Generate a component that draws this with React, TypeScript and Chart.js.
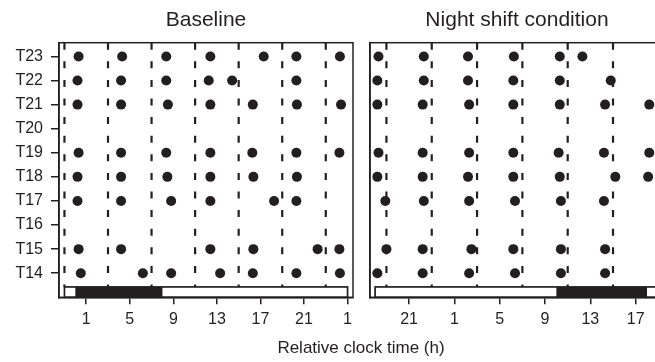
import React, { useEffect, useRef } from 'react';
import { Chart, registerables } from 'chart.js';

Chart.register(...registerables);

// ---- Data ----
const categories = ['T14', 'T15', 'T16', 'T17', 'T18', 'T19', 'T20', 'T21', 'T22', 'T23'];

// Baseline: event times (relative clock hours, continuous) per subject row, same order as categories
const baselineTimes: number[][] = [
  [0.5, 6.2, 8.8, 13.3, 16.3, 20.3, 24.3], // T14
  [0.3, 4.2, 12.4, 16.35, 22.25, 24.25], // T15
  [], // T16
  [0.2, 4.2, 8.8, 12.4, 18.25, 20.3], // T17
  [0.2, 4.2, 8.45, 12.4, 16.35, 20.35], // T18
  [0.3, 4.2, 8.35, 12.4, 16.25, 20.3, 24.25], // T19
  [], // T20
  [0.2, 4.2, 8.5, 12.4, 16.3, 20.35, 24.4], // T21
  [0.2, 4.2, 8.35, 12.25, 14.4, 20.3], // T22
  [0.3, 4.3, 8.35, 12.4, 17.3, 20.3, 24.3], // T23
];

// Night shift condition: times in continuous hours (21 = 21h, 25 = 1h next day, ...)
const nightTimes: number[][] = [
  [18.2, 22.2, 26.3, 30.35, 34.4, 38.3], // T14
  [19.0, 22.2, 26.5, 30.2, 34.4, 38.3], // T15
  [], // T16
  [18.9, 22.3, 26.3, 30.35, 34.4, 38.2], // T17
  [18.2, 22.2, 26.2, 30.2, 34.3, 39.2, 42.1], // T18
  [18.3, 22.2, 26.3, 30.2, 34.2, 38.2, 42.2], // T19
  [], // T20
  [18.2, 22.2, 26.3, 30.2, 34.3, 38.3, 42.2], // T21
  [18.2, 22.3, 26.2, 30.2, 34.3, 38.8], // T22
  [18.3, 22.3, 26.2, 30.25, 34.3, 36.3], // T23
];

const baselineDividers = [-1, 3, 7, 11, 15, 19, 23];
const nightDividers = [19, 23, 27, 31, 35, 39, 43];

const baselineTickValues = [1, 5, 9, 13, 17, 21, 25];
const baselineTickLabels = ['1', '5', '9', '13', '17', '21', '1'];
const nightTickValues = [21, 25, 29, 33, 37, 41];
const nightTickLabels = ['21', '1', '5', '9', '13', '17'];

// light/dark schedule bar [start, end]
const baselineSpan = [-1, 25];
const baselineDark = [0, 8];
const nightSpan = [18, 44];
const nightDark = [34, 42];

const INK = '#231f20';
const FONT = "'Liberation Sans', Arial, Helvetica, sans-serif";

type PanelCfg = {
  title: string;
  times: number[][];
  dividers: number[];
  tickValues: number[];
  tickLabels: string[];
  span: number[];
  dark: number[];
  xMin: number;
  xMax: number;
  showY: boolean;
  yWidth: number;
  padRight: number;
};

function makeConfig(p: PanelCfg): any {
  const points: { x: number; y: number }[] = [];
  p.times.forEach((row, i) => row.forEach((t) => points.push({ x: t, y: i })));

  const dividerSets = p.dividers.map((d) => ({
    type: 'scatter',
    showLine: true,
    data: [
      { x: d, y: 9.57 },
      { x: d, y: -0.57 },
    ],
    borderColor: INK,
    borderWidth: 2.2,
    borderDash: [7, 11.6],
    pointRadius: 0,
    order: 2,
  }));

  const frameBar = {
    id: 'frameBar',
    afterDatasetsDraw(chart: any) {
      const { ctx, chartArea: a, scales } = chart;
      const x = scales.x;
      const y = scales.y;
      ctx.save();
      ctx.beginPath();
      ctx.rect(a.left, a.top - 2, a.width + 2, a.height + 4);
      ctx.clip();
      const yb = y.getPixelForValue(-1);
      const yt = y.getPixelForValue(-0.57);
      const x0 = x.getPixelForValue(p.span[0]);
      const x1 = x.getPixelForValue(p.span[1]);
      const d0 = x.getPixelForValue(p.dark[0]);
      const d1 = x.getPixelForValue(p.dark[1]);
      ctx.fillStyle = '#fff';
      ctx.fillRect(x0, yt, x1 - x0, yb - yt);
      ctx.fillStyle = INK;
      ctx.fillRect(d0, yt, d1 - d0, yb - yt);
      ctx.strokeStyle = INK;
      ctx.lineWidth = 1.7;
      ctx.strokeRect(x0, yt, x1 - x0, yb - yt);
      ctx.restore();
      ctx.save();
      ctx.strokeStyle = INK;
      ctx.lineWidth = 1.5;
      ctx.strokeRect(a.left, a.top, a.width, a.height);
      ctx.restore();
    },
  };

  return {
    type: 'scatter',
    data: {
      datasets: [
        {
          type: 'scatter',
          data: points,
          pointRadius: 5,
          pointHoverRadius: 5,
          backgroundColor: INK,
          borderWidth: 0,
          order: 1,
        },
        ...dividerSets,
      ],
    },
    options: {
      responsive: false,
      maintainAspectRatio: false,
      animation: false,
      events: [],
      layout: { padding: { left: 0, right: p.padRight, top: 0, bottom: 0 } },
      plugins: {
        legend: { display: false },
        tooltip: { enabled: false },
        title: {
          display: true,
          text: p.title,
          fullSize: false,
          color: INK,
          font: { family: FONT, size: 21, weight: 'normal' },
          padding: { top: 8, bottom: 9.5 },
        },
      },
      scales: {
        x: {
          type: 'linear',
          min: p.xMin,
          max: p.xMax,
          afterBuildTicks: (axis: any) => {
            axis.ticks = p.tickValues.map((v) => ({ value: v }));
          },
          afterFit: (scale: any) => {
            scale.height = 64.7;
          },
          ticks: {
            autoSkip: false,
            maxRotation: 0,
            padding: 6,
            color: INK,
            font: { family: FONT, size: 16 },
            callback: (_v: any, i: number) => p.tickLabels[i],
          },
          grid: {
            drawOnChartArea: false,
            drawTicks: true,
            tickLength: 7,
            color: INK,
            lineWidth: 1.5,
          },
          border: { display: true, color: INK, width: 1.5 },
        },
        y: {
          type: 'linear',
          min: -1,
          max: 9.57,
          afterBuildTicks: (axis: any) => {
            axis.ticks = categories.map((_c, i) => ({ value: i }));
          },
          afterFit: (scale: any) => {
            scale.width = p.yWidth;
          },
          ticks: {
            display: p.showY,
            autoSkip: false,
            padding: 8,
            color: INK,
            font: { family: FONT, size: 16 },
            callback: (_v: any, i: number) => categories[i],
          },
          grid: {
            drawOnChartArea: false,
            drawTicks: p.showY,
            tickLength: 8,
            color: INK,
            lineWidth: 1.5,
          },
          border: { display: true, color: INK, width: 1.5 },
        },
      },
    },
    plugins: [frameBar],
  };
}

function Panel({ cfg, left, width }: { cfg: PanelCfg; left: number; width: number }) {
  const ref = useRef<HTMLCanvasElement | null>(null);
  useEffect(() => {
    if (!ref.current) return;
    const chart = new Chart(ref.current, makeConfig(cfg));
    return () => chart.destroy();
  }, []);
  return (
    <canvas
      ref={ref}
      width={width}
      height={362}
      style={{ position: 'absolute', left, top: 0, width, height: 362, display: 'block' }}
    />
  );
}

export default function App() {
  const baseline: PanelCfg = {
    title: 'Baseline',
    times: baselineTimes,
    dividers: baselineDividers,
    tickValues: baselineTickValues,
    tickLabels: baselineTickLabels,
    span: baselineSpan,
    dark: baselineDark,
    xMin: -1.5,
    xMax: 25.5,
    showY: true,
    yWidth: 59,
    padRight: 7,
  };
  const night: PanelCfg = {
    title: 'Night shift condition',
    times: nightTimes,
    dividers: nightDividers,
    tickValues: nightTickValues,
    tickLabels: nightTickLabels,
    span: nightSpan,
    dark: nightDark,
    xMin: 17.55,
    xMax: 43.5,
    showY: false,
    yWidth: 10,
    padRight: 6,
  };
  return (
    <div
      style={{
        position: 'fixed',
        left: 0,
        top: 0,
        width: 655,
        height: 362,
        overflow: 'hidden',
        background: '#fff',
      }}
    >
      <Panel cfg={baseline} left={0} width={360} />
      <Panel cfg={night} left={360} width={310} />
      <div
        style={{
          position: 'absolute',
          left: 361,
          top: 338,
          transform: 'translateX(-50%)',
          whiteSpace: 'nowrap',
          fontFamily: FONT,
          fontSize: 17,
          lineHeight: '20px',
          color: INK,
        }}
      >
        Relative clock time (h)
      </div>
    </div>
  );
}
